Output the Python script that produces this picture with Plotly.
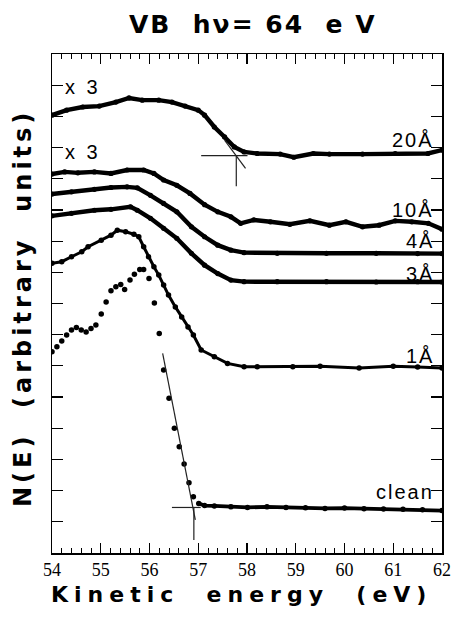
import plotly.graph_objects as go

# ---------------- data ----------------
E_20 = [54.0, 54.30, 54.63, 54.97, 55.31, 55.58, 55.85, 56.19, 56.46, 56.73, 57.00, 57.13, 57.33,
        57.54, 57.74, 57.94, 58.21, 58.68, 58.96, 59.36, 59.69, 60.37, 61.04, 61.71, 62.0]
N_20 = [14.04, 14.20, 14.30, 14.33, 14.46, 14.59, 14.52, 14.52, 14.46, 14.33, 14.20, 14.04, 13.66,
        13.34, 13.02, 12.86, 12.81, 12.79, 12.69, 12.81, 12.79, 12.79, 12.81, 12.81, 12.92]

E_10 = [54.0, 54.26, 54.53, 54.87, 55.21, 55.54, 55.88, 56.09, 56.29, 56.56, 56.83, 57.13, 57.40,
        57.67, 57.87, 58.14, 58.48, 58.88, 59.29, 59.69, 60.03, 60.37, 60.71, 61.04, 61.38, 61.72, 62.0]
N_10 = [12.15, 12.22, 12.19, 12.22, 12.17, 12.28, 12.28, 12.17, 11.96, 11.79, 11.53, 11.17, 10.94,
        10.78, 10.57, 10.68, 10.62, 10.54, 10.65, 10.51, 10.62, 10.46, 10.51, 10.65, 10.62, 10.57, 10.38]

E_4 = [54.0, 54.40, 54.87, 55.21, 55.54, 55.75, 56.02, 56.29, 56.56, 56.86, 57.13, 57.40, 57.67,
       57.94, 58.62, 59.63, 60.65, 61.50, 62.0]
N_4 = [11.51, 11.58, 11.66, 11.72, 11.74, 11.71, 11.47, 11.21, 10.94, 10.46, 10.14, 9.87, 9.71,
       9.63, 9.61, 9.61, 9.61, 9.60, 9.60]

E_3 = [54.0, 54.40, 54.87, 55.21, 55.61, 55.75, 56.02, 56.29, 56.56, 56.86, 57.13, 57.40, 57.67,
       57.94, 58.62, 59.63, 60.65, 61.50, 62.0]
N_3 = [10.81, 10.89, 10.99, 11.02, 11.10, 10.99, 10.73, 10.41, 10.09, 9.61, 9.23, 8.96, 8.75,
       8.70, 8.70, 8.70, 8.69, 8.70, 8.69]

E_1 = [54.0, 54.20, 54.40, 54.61, 54.74, 55.01, 55.21, 55.34, 55.51, 55.68, 55.78, 55.88, 55.98,
       56.09, 56.19, 56.29, 56.39, 56.53, 56.66, 56.79, 56.90, 57.06, 57.33, 57.60, 57.94, 58.21,
       58.94, 59.50, 60.30, 61.00, 61.50, 62.0]
N_1 = [9.29, 9.34, 9.50, 9.66, 9.82, 10.03, 10.19, 10.35, 10.30, 10.22, 10.14, 9.82, 9.50,
       9.18, 8.91, 8.59, 8.27, 7.89, 7.57, 7.25, 6.99, 6.51, 6.29, 6.08, 5.97, 5.97,
       5.97, 5.99, 5.93, 5.99, 5.96, 5.93]

E_clean = [54.0, 54.10, 54.20, 54.30, 54.40, 54.50, 54.60, 54.70, 54.80, 54.90, 55.01, 55.11, 55.21,
           55.31, 55.41, 55.49, 55.60, 55.69, 55.80, 55.88, 55.99, 56.10, 56.20, 56.29, 56.40, 56.51,
           56.61, 56.71, 56.81, 56.90, 57.01, 57.13, 57.33, 57.67, 58.01, 58.41, 58.80, 59.20, 59.60,
           60.00, 60.40, 60.80, 61.20, 61.60, 62.0]
N_clean = [6.45, 6.61, 6.80, 6.99, 7.15, 7.23, 7.15, 7.09, 7.20, 7.31, 7.66, 8.05, 8.41,
           8.54, 8.61, 8.45, 8.75, 8.94, 9.09, 9.09, 8.80, 8.02, 7.04, 5.87, 4.96, 4.00,
           3.41, 2.85, 2.25, 1.80, 1.59, 1.52, 1.51, 1.48, 1.46, 1.48, 1.46, 1.45, 1.43,
           1.44, 1.42, 1.41, 1.40, 1.39, 1.36]
clean_tail_start = 57.0

# extrapolation construction lines
fit20_slope_E = [57.54, 57.97]
fit20_slope_N = [13.24, 12.33]
fit20_base_E = [57.06, 58.01]
fit20_base_N = [12.74, 12.74]
fit20_vert_E = [57.78, 57.78]
fit20_vert_N = [12.74, 11.76]

fitc_slope_E = [56.27, 56.94]
fitc_slope_N = [6.40, 1.06]
fitc_base_E = [56.46, 57.05]
fitc_base_N = [1.46, 1.46]
fitc_vert_E = [56.91, 56.91]
fitc_vert_N = [1.46, 0.42]

x_ticks = [54, 55, 56, 57, 58, 59, 60, 61, 62]

curve_labels = ["20Å", "10Å", "4Å", "3Å", "1Å", "clean"]
label_N = [13.24, 10.99, 10.0, 8.94, 6.31, 1.96]
scale_labels = ["x 3", "x 3"]
scale_label_N = [14.94, 12.85]

# ---------------- figure ----------------
fig = go.Figure()

def dense(E, N, lw=4.4, ms=5.2):
    fig.add_trace(go.Scatter(x=E, y=N, mode="lines+markers",
                             line=dict(color="black", width=lw),
                             marker=dict(color="black", size=ms),
                             showlegend=False, hoverinfo="skip"))

dense(E_20, N_20)
dense(E_10, N_10)
dense(E_4, N_4)
dense(E_3, N_3)
dense(E_1, N_1, lw=3.0, ms=5.5)

# clean: separate dots, dense tail
tail_E = [e for e in E_clean if e >= clean_tail_start]
tail_N = [n for e, n in zip(E_clean, N_clean) if e >= clean_tail_start]
fig.add_trace(go.Scatter(x=tail_E, y=tail_N, mode="lines",
                         line=dict(color="black", width=3.8),
                         showlegend=False, hoverinfo="skip"))
fig.add_trace(go.Scatter(x=E_clean, y=N_clean, mode="markers",
                         marker=dict(color="black", size=5.5),
                         showlegend=False, hoverinfo="skip"))

for ex, ny in [(fit20_slope_E, fit20_slope_N), (fit20_base_E, fit20_base_N), (fit20_vert_E, fit20_vert_N),
               (fitc_slope_E, fitc_slope_N), (fitc_base_E, fitc_base_N), (fitc_vert_E, fitc_vert_N)]:
    fig.add_trace(go.Scatter(x=ex, y=ny, mode="lines",
                             line=dict(color="#222", width=1.2),
                             showlegend=False, hoverinfo="skip"))

annotations = []
lab_font = dict(family="Liberation Sans, Arial", size=20, color="black")
for t, ny in zip(curve_labels, label_N):
    annotations.append(dict(x=61.88, y=ny, xref="x", yref="y", xanchor="right", yanchor="middle",
                            text='<span style="letter-spacing:2px">%s</span>' % t,
                            showarrow=False, font=lab_font))
for t, ny in zip(scale_labels, scale_label_N):
    annotations.append(dict(x=54.22, y=ny, xref="x", yref="y", xanchor="left", yanchor="middle",
                            text='<span style="letter-spacing:3px">%s</span>' % t.replace(" ", "\u00a0"),
                            showarrow=False, font=lab_font))

bold_font = "DejaVu Sans, Liberation Sans, Arial"
# title
annotations.append(dict(x=0.516, y=1.060, xref="paper", yref="paper", xanchor="center", yanchor="middle",
                        text='<span style="letter-spacing:2px"><b>VB\u00a0\u00a0hν=\u00a064\u00a0\u00a0e\u00a0V</b></span>',
                        showarrow=False,
                        font=dict(family=bold_font, size=25, color="black")))
# x axis title
annotations.append(dict(x=0.486, y=-0.084, xref="paper", yref="paper", xanchor="center", yanchor="middle",
                        text='<span style="letter-spacing:6px"><b>Kinetic\u00a0\u00a0energy\u00a0\u00a0(eV)</b></span>',
                        showarrow=False,
                        font=dict(family=bold_font, size=22, color="black")))
# y axis title
annotations.append(dict(x=-0.073, y=0.49, xref="paper", yref="paper", xanchor="center", yanchor="middle",
                        textangle=-90,
                        text='<span style="letter-spacing:4px"><b>N(E)\u00a0\u00a0(arbitrary\u00a0\u00a0units)</b></span>',
                        showarrow=False,
                        font=dict(family=bold_font, size=24, color="black")))

fig.update_layout(
    width=463, height=621,
    margin=dict(l=52, r=16, t=54, b=68),
    paper_bgcolor="white", plot_bgcolor="white",
    showlegend=False,
    annotations=annotations,
    xaxis=dict(range=[54, 62], tickvals=x_ticks, ticktext=[str(v) for v in x_ticks],
               ticks="inside", ticklen=10, tickwidth=1.3, tickcolor="black",
               minor=dict(dtick=0.2, ticks="inside", ticklen=5, tickwidth=1, tickcolor="black"),
               showline=True, linewidth=1.5, linecolor="black", mirror="ticks",
               showgrid=False, zeroline=False,
               tickfont=dict(family="Liberation Serif, Times New Roman", size=18, color="black")),
    yaxis=dict(range=[0, 16], dtick=1, ticks="inside", ticklen=11, tickwidth=1.2, tickcolor="black",
               showticklabels=False,
               showline=True, linewidth=1.5, linecolor="black", mirror="ticks",
               showgrid=False, zeroline=False),
)

fig.write_html("out.html", config={"displayModeBar": False, "staticPlot": True},
               post_script="document.body.style.margin='0px';document.body.style.overflow='hidden';")
